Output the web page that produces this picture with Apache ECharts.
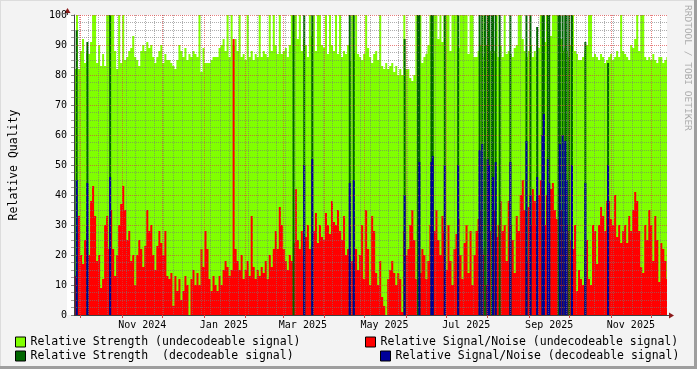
<!DOCTYPE html>
<html><head><meta charset="utf-8">
<script src="https://cdn.jsdelivr.net/npm/echarts@6/dist/echarts.min.js"></script>
<style>html,body{margin:0;padding:0;background:#F3F3F3}#c{width:697px;height:369px}</style>
</head><body><div id="c"></div>
<script>
// ---------- data ----------
const startDate = '2024-09-26';
const stepDays = 1.5;
const axisRange = ['2024-09-26', '2025-12-13'];
const strengthUndecodeable = [
82,100,82,88,92,84,88,87,91,100, 100,84,90,83,87,83,100,100,100,100,
88,82,100,84,100,85,86,88,89,93, 86,85,83,88,90,88,91,89,90,86,
84,86,88,90,84,87,85,85,84,83, 82,85,90,88,86,89,85,87,86,88,
87,86,100,81,89,84,84,84,85,86, 86,86,89,90,92,88,100,86,100,90,
92,88,100,86,87,85,100,86,88,85, 87,86,100,86,88,87,86,100,88,100,
90,87,100,87,88,89,86,90,100,100, 100,92,100,88,92,90,86,100,93,100,
88,100,100,90,89,100,87,100,90,88, 100,87,100,86,88,87,90,85,100,88,
100,87,86,85,87,100,89,86,84,87, 88,85,100,83,82,84,82,83,84,81,
83,80,82,80,100,82,82,79,78,80, 100,84,100,84,86,87,90,100,86,100,
100,92,100,91,100,100,100,88,100,100, 100,89,100,100,100,100,87,100,100,86,
86,88,90,100,86,90,100,88,100,88, 100,86,90,86,100,87,88,87,86,89,
90,100,100,92,88,86,88,90,86,88, 86,89,100,90,91,100,100,93,100,100,
100,87,92,88,89,88,86,90,100,88, 87,85,85,86,88,90,100,100,86,87,
86,85,87,86,84,85,86,87,85,86, 88,86,100,88,87,86,85,90,89,92,
100,88,100,100,86,85,86,85,87,85, 84,86,86,84,85,86];
const snrUndecodeable = [
13,28,33,20,17,25,30,20,38,43, 33,18,20,9,12,30,33,22,35,22,
13,20,30,37,43,35,25,28,18,20, 10,20,25,22,16,23,35,28,30,20,
15,23,28,24,20,28,13,12,14,3, 13,8,12,5,8,13,10,0,12,15,
10,14,10,22,16,28,22,12,8,13, 10,8,13,10,15,18,16,13,15,92,
22,18,15,20,12,15,18,13,33,16, 12,15,13,16,14,18,12,20,16,22,
28,22,36,30,22,18,15,20,18,24, 42,25,22,28,20,26,30,22,24,28,
34,24,30,26,25,34,30,27,38,31, 30,35,28,25,33,20,22,30,18,33,
22,15,20,30,12,35,22,10,33,28, 14,10,18,6,3,0,12,15,18,14,
10,14,12,1,28,20,22,30,35,25, 12,18,14,22,20,12,18,30,25,28,
35,25,20,33,28,15,30,18,10,22, 27,32,20,12,24,30,14,28,10,20,
28,32,35,20,22,10,32,28,22,35, 26,30,38,28,30,18,38,30,25,14,
33,28,40,45,35,18,36,30,42,38, 30,40,45,22,30,40,38,42,44,35,
32,30,35,28,22,30,28,25,22,30, 8,15,12,10,20,25,12,10,30,28,
17,30,36,33,28,38,38,32,30,40, 26,30,24,28,30,24,33,28,35,41,
38,28,16,14,30,25,35,30,18,33, 25,11,24,22,18,12];
const decodeableDates = [
'2024-09-28','2024-10-06','2024-10-23','2025-03-09','2025-03-17','2025-03-23',
'2025-04-20','2025-04-23','2025-05-31','2025-06-10','2025-06-11','2025-06-20',
'2025-06-21','2025-06-30','2025-07-10','2025-07-26','2025-07-28','2025-07-30',
'2025-08-01','2025-08-02','2025-08-04','2025-08-05','2025-08-07','2025-08-10',
'2025-08-18','2025-08-30','2025-09-02','2025-09-07','2025-09-11','2025-09-12',
'2025-09-15','2025-09-16','2025-09-23','2025-09-24','2025-09-26','2025-09-28',
'2025-09-29','2025-10-01','2025-10-03','2025-10-13','2025-10-30'];
const strengthDecodeable = [
95,91,100,100,100,100, 100,100,92,100,100,100, 100,100,100,100,100,100,
100,100,100,100,100,100, 100,100,100,96,100,100, 100,100,100,100,100,100,
100,100,100,91,84];
const snrDecodeable = [
45,44,46,0,50,52, 44,45,40,0,51,51, 53,50,50,55,57,0,
52,50,0,46,51,0, 51,58,40,46,60,67, 52,44,0,57,60,58,
45,0,50,44,50];
const xLabels = ['Nov 2024','Jan 2025','Mar 2025','May 2025','Jul 2025','Sep 2025','Nov 2025'];
const seriesNames = [
  'Relative Strength (undecodeable signal)',
  'Relative Signal/Noise (undecodeable signal)',
  'Relative Strength  (decodeable signal)',
  'Relative Signal/Noise (decodeable signal)'];
const seriesColors = ['#80FF00', '#FF0000', '#006600', '#000099'];

// ---------- build ----------
const DAY = 86400000;
const MONTHS = ['Jan','Feb','Mar','Apr','May','Jun','Jul','Aug','Sep','Oct','Nov','Dec'];
function utc(s){const p=s.split('-').map(Number);return Date.UTC(p[0],p[1]-1,p[2]);}
const t0 = utc(startDate);
const xMin = utc(axisRange[0]), xMax = utc(axisRange[1]);
function stepSeries(arr){
  const out = arr.map((v,i)=>[t0+i*stepDays*DAY, v]);
  out.push([t0+arr.length*stepDays*DAY, arr[arr.length-1]]);
  return out;
}
const sU = stepSeries(strengthUndecodeable);
const nU = stepSeries(snrUndecodeable);
const sD = decodeableDates.map((d,i)=>[utc(d), strengthDecodeable[i]]);
const nD = decodeableDates.map((d,i)=>[utc(d), snrDecodeable[i]]);

const monthStarts=[];
{const d=new Date(xMin); let y=d.getUTCFullYear(), m=d.getUTCMonth()+1;
 for(;;){const t=Date.UTC(y,m,1); if(t>xMax)break; monthStarts.push(t); m++;}}
const weekLines=[];
{let w=xMin; while(new Date(w).getUTCDay()!==1) w+=DAY;
 for(;w<=xMax;w+=7*DAY){ if(new Date(w).getUTCDate()!==1) weekLines.push(w);} }
const labelTimes = xLabels.map(s=>{const p=s.split(' ');return Date.UTC(+p[1], MONTHS.indexOf(p[0]), 16);});
function labelFor(v){
  let best='', bd=Infinity;
  labelTimes.forEach((t,i)=>{const dd=Math.abs(t-v); if(dd<bd){bd=dd;best=xLabels[i];}});
  return bd<DAY?best:'';
}

const MINOR = {color:'rgba(120,120,120,0.6)', type:'dotted', width:1};
const MAJOR = {color:'rgba(220,60,60,0.65)', type:'dotted', width:1};
const MONO = "'DejaVu Sans Mono', monospace";
const chart = echarts.init(document.getElementById('c'), null, {renderer:'canvas'});

function legendAt(i, left, top){
  return {left, top, itemWidth:10, itemHeight:10, itemGap:0, orient:'horizontal',
    selectedMode:false, padding:0,
    textStyle:{fontFamily:MONO, fontSize:11.5, color:'#000'},
    itemStyle:{borderColor:'#000', borderWidth:1},
    data:[{name:seriesNames[i], icon:'rect'}]};
}

chart.setOption({
  animation:false,
  backgroundColor:'#F3F3F3',
  grid:{left:67, top:15, right:30, bottom:54, show:false},
  xAxis:[
   {type:'value', min:xMin, max:xMax, z:9,
    axisLine:{show:false},
    axisTick:{show:false, customValues:weekLines},
    axisLabel:{show:false},
    splitLine:{show:true, lineStyle:MINOR}, minorTick:{show:false}},
   {type:'value', min:xMin, max:xMax, z:10, position:'bottom',
    axisLine:{show:true, onZero:false, lineStyle:{color:'#404040', width:1}},
    axisTick:{show:true, customValues:monthStarts, length:3, lineStyle:{color:'#D04848'}},
    axisLabel:{show:true, customValues:labelTimes, formatter:(v)=>labelFor(v),
      margin:5, fontFamily:MONO, fontSize:10, color:'#000', hideOverlap:false},
    splitLine:{show:true, lineStyle:MAJOR}, minorTick:{show:false}}],
  yAxis:{type:'value', min:0, max:100, interval:10, z:10,
    name:'Relative Quality', nameLocation:'middle', nameGap:54, nameRotate:90,
    nameTextStyle:{fontFamily:MONO, fontSize:11.5, color:'#000'},
    axisLine:{show:true, lineStyle:{color:'#404040', width:1}},
    axisTick:{show:true, length:3, lineStyle:{color:'#808080'}},
    minorTick:{show:true, splitNumber:4, length:3, lineStyle:{color:'#A0A0A0'}},
    axisLabel:{margin:7, fontFamily:MONO, fontSize:10, color:'#000'},
    splitLine:{show:true, lineStyle:MAJOR},
    minorSplitLine:{show:true, lineStyle:MINOR}},
  legend:[legendAt(0,15,336), legendAt(1,365,336), legendAt(2,15,350), legendAt(3,380,350)],
  series:[
    {name:seriesNames[0], type:'line', step:'end', data:sU, symbol:'none', z:1, xAxisIndex:1,
     lineStyle:{width:0, color:seriesColors[0]}, itemStyle:{color:seriesColors[0]},
     areaStyle:{color:seriesColors[0], opacity:1}},
    {name:seriesNames[1], type:'line', step:'end', data:nU, symbol:'none', z:2, xAxisIndex:1,
     lineStyle:{width:0, color:seriesColors[1]}, itemStyle:{color:seriesColors[1]},
     areaStyle:{color:seriesColors[1], opacity:1}},
    {name:seriesNames[2], type:'bar', data:sD, barWidth:2, barGap:'-100%', z:3, xAxisIndex:1,
     itemStyle:{color:seriesColors[2]}},
    {name:seriesNames[3], type:'bar', data:nD, barWidth:2, barGap:'-100%', z:4, xAxisIndex:1,
     itemStyle:{color:seriesColors[3]}}
  ],
  graphic:[
    {type:'rect', z:-100, shape:{x:67,y:15,width:600,height:300}, style:{fill:'#FFFFFF'}, silent:true},
    {type:'rect', shape:{x:0,y:0,width:697,height:1}, style:{fill:'#DCDCDC'}, silent:true},
    {type:'rect', shape:{x:0,y:0,width:1,height:369}, style:{fill:'#DCDCDC'}, silent:true},
    {type:'rect', shape:{x:0,y:366,width:697,height:3}, style:{fill:'#9E9E9E'}, silent:true},
    {type:'rect', shape:{x:694,y:0,width:3,height:369}, style:{fill:'#9E9E9E'}, silent:true},
    {type:'line', shape:{x1:67.5,y1:12,x2:67.5,y2:15}, style:{stroke:'#404040', lineWidth:1}, silent:true},
    {type:'line', shape:{x1:667,y1:315.5,x2:670,y2:315.5}, style:{stroke:'#404040', lineWidth:1}, silent:true},
    {type:'polygon', shape:{points:[[64.5,13],[70.5,13],[67.5,8]]}, style:{fill:'#8B1A1A'}, silent:true},
    {type:'polygon', shape:{points:[[669,312.5],[669,318.5],[674,315.5]]}, style:{fill:'#8B1A1A'}, silent:true},
    {type:'text', x:692, y:5, rotation:-Math.PI/2, silent:true,
     style:{text:'RRDTOOL / TOBI OETIKER', font:"9.5px 'DejaVu Sans Mono', monospace", fill:'#AAAAAA',
            textAlign:'left', textVerticalAlign:'top'}}
  ]
});
</script></body></html>
